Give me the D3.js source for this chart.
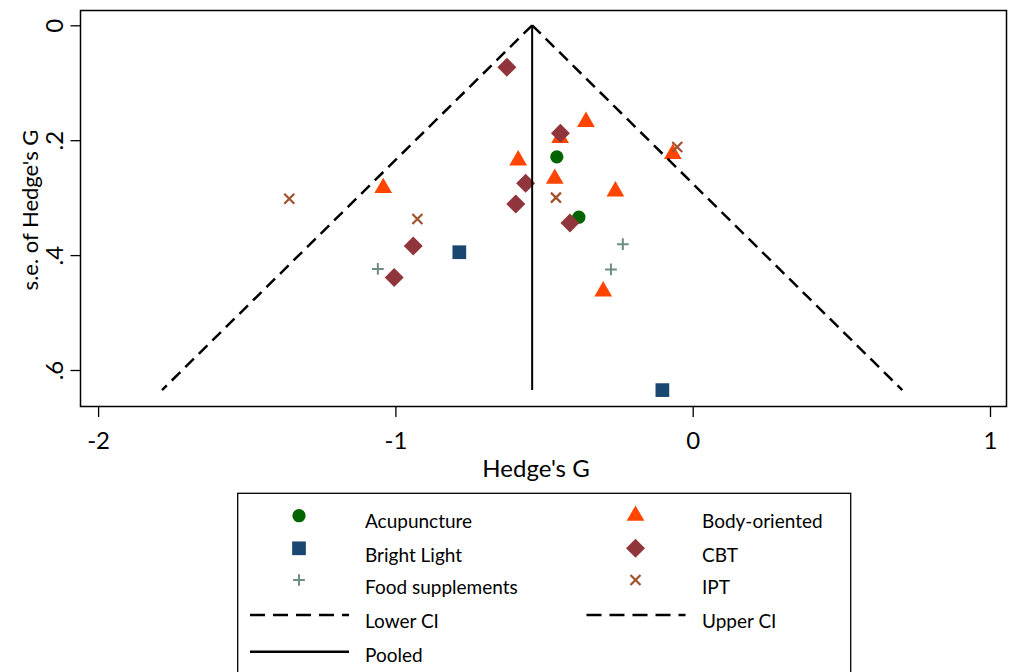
<!DOCTYPE html>
<html>
<head>
<meta charset="utf-8">
<script src="https://cdn.jsdelivr.net/npm/d3@7"></script>
<style>
  body { margin: 0; background: #fff; }
  svg { display: block; font-family: Lato, sans-serif; }
</style>
</head>
<body>
<svg id="chart" width="1014" height="672"></svg>
<script>
// Hedge's G and its s.e. per study: [g, se]
const acupuncture = [[-0.457, 0.229], [-0.383, 0.334]];
const bodyOriented = [[-1.041, 0.283], [-0.587, 0.235], [-0.464, 0.267], [-0.446, 0.196],
                      [-0.359, 0.168], [-0.260, 0.289], [-0.301, 0.463], [-0.067, 0.224]];
const brightLight = [[-0.785, 0.395], [-0.102, 0.635]];
const cbt = [[-0.625, 0.073], [-0.445, 0.188], [-0.562, 0.275], [-0.595, 0.311],
             [-0.413, 0.344], [-0.940, 0.384], [-1.004, 0.439]];
const foodSupplements = [[-1.059, 0.424], [-0.235, 0.381], [-0.275, 0.425]];
const ipt = [[-1.357, 0.302], [-0.926, 0.337], [-0.460, 0.300], [-0.052, 0.212]];

// pooled effect and the 95% limits drawn as the funnel
const pooled = [[-0.54, 0], [-0.54, 0.635]];
const lowerCI = [[-0.54, 0], [-1.785, 0.635]];
const upperCI = [[-0.54, 0], [0.705, 0.635]];

const xTicks = [-2, -1, 0, 1];
const yTicks = [0, 0.2, 0.4, 0.6];
const yTickLabels = ['0', '.2', '.4', '.6'];

const series = [
  { name: 'Acupuncture', data: acupuncture, shape: 'circle', color: '#006400' },
  { name: 'Body-oriented', data: bodyOriented, shape: 'triangle', color: '#ff4500' },
  { name: 'Bright Light', data: brightLight, shape: 'square', color: '#1a476f' },
  { name: 'CBT', data: cbt, shape: 'diamond', color: '#90353b' },
  { name: 'Food supplements', data: foodSupplements, shape: 'plus', color: '#6e8e84' },
  { name: 'IPT', data: ipt, shape: 'times', color: '#a0522d' }
];

const svg = d3.select('#chart');

const x = d3.scaleLinear().domain([-2, 1]).range([98.1, 990]);
const y = d3.scaleLinear().domain([0, 0.6]).range([25.3, 370]);

// plot region border
svg.append('rect')
  .attr('x', 80.5).attr('y', 10.5)
  .attr('width', 926).attr('height', 396)
  .attr('fill', 'none').attr('stroke', '#000').attr('stroke-width', 1.5);

// axes
const gx = svg.append('g')
  .attr('transform', 'translate(0,407)')
  .call(d3.axisBottom(x).tickValues(xTicks).tickFormat(d => String(d)).tickSize(10));
gx.select('.domain').remove();
gx.selectAll('.tick line').attr('stroke', '#000').attr('stroke-width', 1.3);
gx.selectAll('.tick text')
  .attr('y', 42).attr('dy', 0)
  .attr('fill', '#000').style('font-size', '24px').style('font-family', 'Lato');

const gy = svg.append('g')
  .attr('transform', 'translate(80.5,0)')
  .call(d3.axisLeft(y).tickValues(yTicks).tickFormat((d, i) => yTickLabels[i]).tickSize(10));
gy.select('.domain').remove();
gy.selectAll('.tick line').attr('stroke', '#000').attr('stroke-width', 1.3);
gy.selectAll('.tick text')
  .attr('x', 0).attr('dy', 0)
  .attr('text-anchor', 'middle')
  .attr('transform', 'translate(-17.5,0) rotate(-90)')
  .attr('fill', '#000').style('font-size', '24px').style('font-family', 'Lato');

svg.append('text')
  .attr('x', 536).attr('y', 477)
  .attr('text-anchor', 'middle')
  .style('font-size', '24px')
  .text("Hedge's G");

svg.append('text')
  .attr('transform', 'translate(37.5,210) rotate(-90)')
  .attr('text-anchor', 'middle')
  .style('font-size', '22px')
  .text("s.e. of Hedge's G");

// marker shapes
function marker(g, shape, color) {
  if (shape === 'circle') {
    g.append('path').attr('d', d3.symbol(d3.symbolCircle, 139)()).attr('fill', color);
  } else if (shape === 'square') {
    g.append('path').attr('d', d3.symbol(d3.symbolSquare, 188)()).attr('fill', color);
  } else if (shape === 'triangle') {
    g.append('path').attr('d', d3.symbol(d3.symbolTriangle, 136)()).attr('fill', color);
  } else if (shape === 'diamond') {
    g.append('path').attr('d', d3.symbol(d3.symbolSquare, 180)())
      .attr('transform', 'rotate(45)').attr('fill', color);
  } else if (shape === 'plus') {
    g.append('path').attr('d', d3.symbol(d3.symbolPlus, 47)())
      .attr('fill', 'none').attr('stroke', color).attr('stroke-width', 2);
  } else if (shape === 'times') {
    g.append('path').attr('d', d3.symbol(d3.symbolTimes, 67)())
      .attr('fill', 'none').attr('stroke', color).attr('stroke-width', 2.2);
  }
}

series.forEach(s => {
  s.data.forEach(([g, se]) => {
    const m = svg.append('g').attr('transform', `translate(${x(g)},${y(se)})`);
    marker(m, s.shape, s.color);
  });
});

// funnel lines
const line = d3.line().x(d => x(d[0])).y(d => y(d[1]));
svg.append('path').attr('d', line(lowerCI))
  .attr('fill', 'none').attr('stroke', '#000').attr('stroke-width', 2.5).attr('stroke-dasharray', '12,7');
svg.append('path').attr('d', line(upperCI))
  .attr('fill', 'none').attr('stroke', '#000').attr('stroke-width', 2.5).attr('stroke-dasharray', '12,7');
svg.append('path').attr('d', line(pooled))
  .attr('fill', 'none').attr('stroke', '#000').attr('stroke-width', 2);

// legend
svg.append('rect')
  .attr('x', 237.7).attr('y', 493.3)
  .attr('width', 613).attr('height', 220)
  .attr('fill', 'none').attr('stroke', '#000').attr('stroke-width', 1.3);

const legendItems = series.map(s => ({ label: s.name, shape: s.shape, color: s.color }))
  .concat([
    { label: 'Lower CI', shape: 'dash' },
    { label: 'Upper CI', shape: 'dash' },
    { label: 'Pooled', shape: 'solid' }
  ]);

const rowMarkerY = [515.7, 548.3, 580, 615, 651.7];
const rowTextY = [528.3, 561.7, 594, 627.5, 662];

legendItems.forEach((d, i) => {
  const col = i % 2, row = Math.floor(i / 2);
  const my = rowMarkerY[row];
  const mx = col === 0 ? 299 : 635.5;
  const tx = col === 0 ? 365 : 702;
  if (d.shape === 'dash' || d.shape === 'solid') {
    svg.append('line')
      .attr('x1', mx - 49).attr('x2', mx + 50)
      .attr('y1', my).attr('y2', my)
      .attr('stroke', '#000').attr('stroke-width', 2.5)
      .attr('stroke-dasharray', d.shape === 'dash' ? '15,8' : null);
  } else {
    marker(svg.append('g').attr('transform', `translate(${mx},${my})`), d.shape, d.color);
  }
  svg.append('text')
    .attr('x', tx).attr('y', rowTextY[row])
    .style('font-size', '19px')
    .text(d.label);
});
</script>
</body>
</html>
